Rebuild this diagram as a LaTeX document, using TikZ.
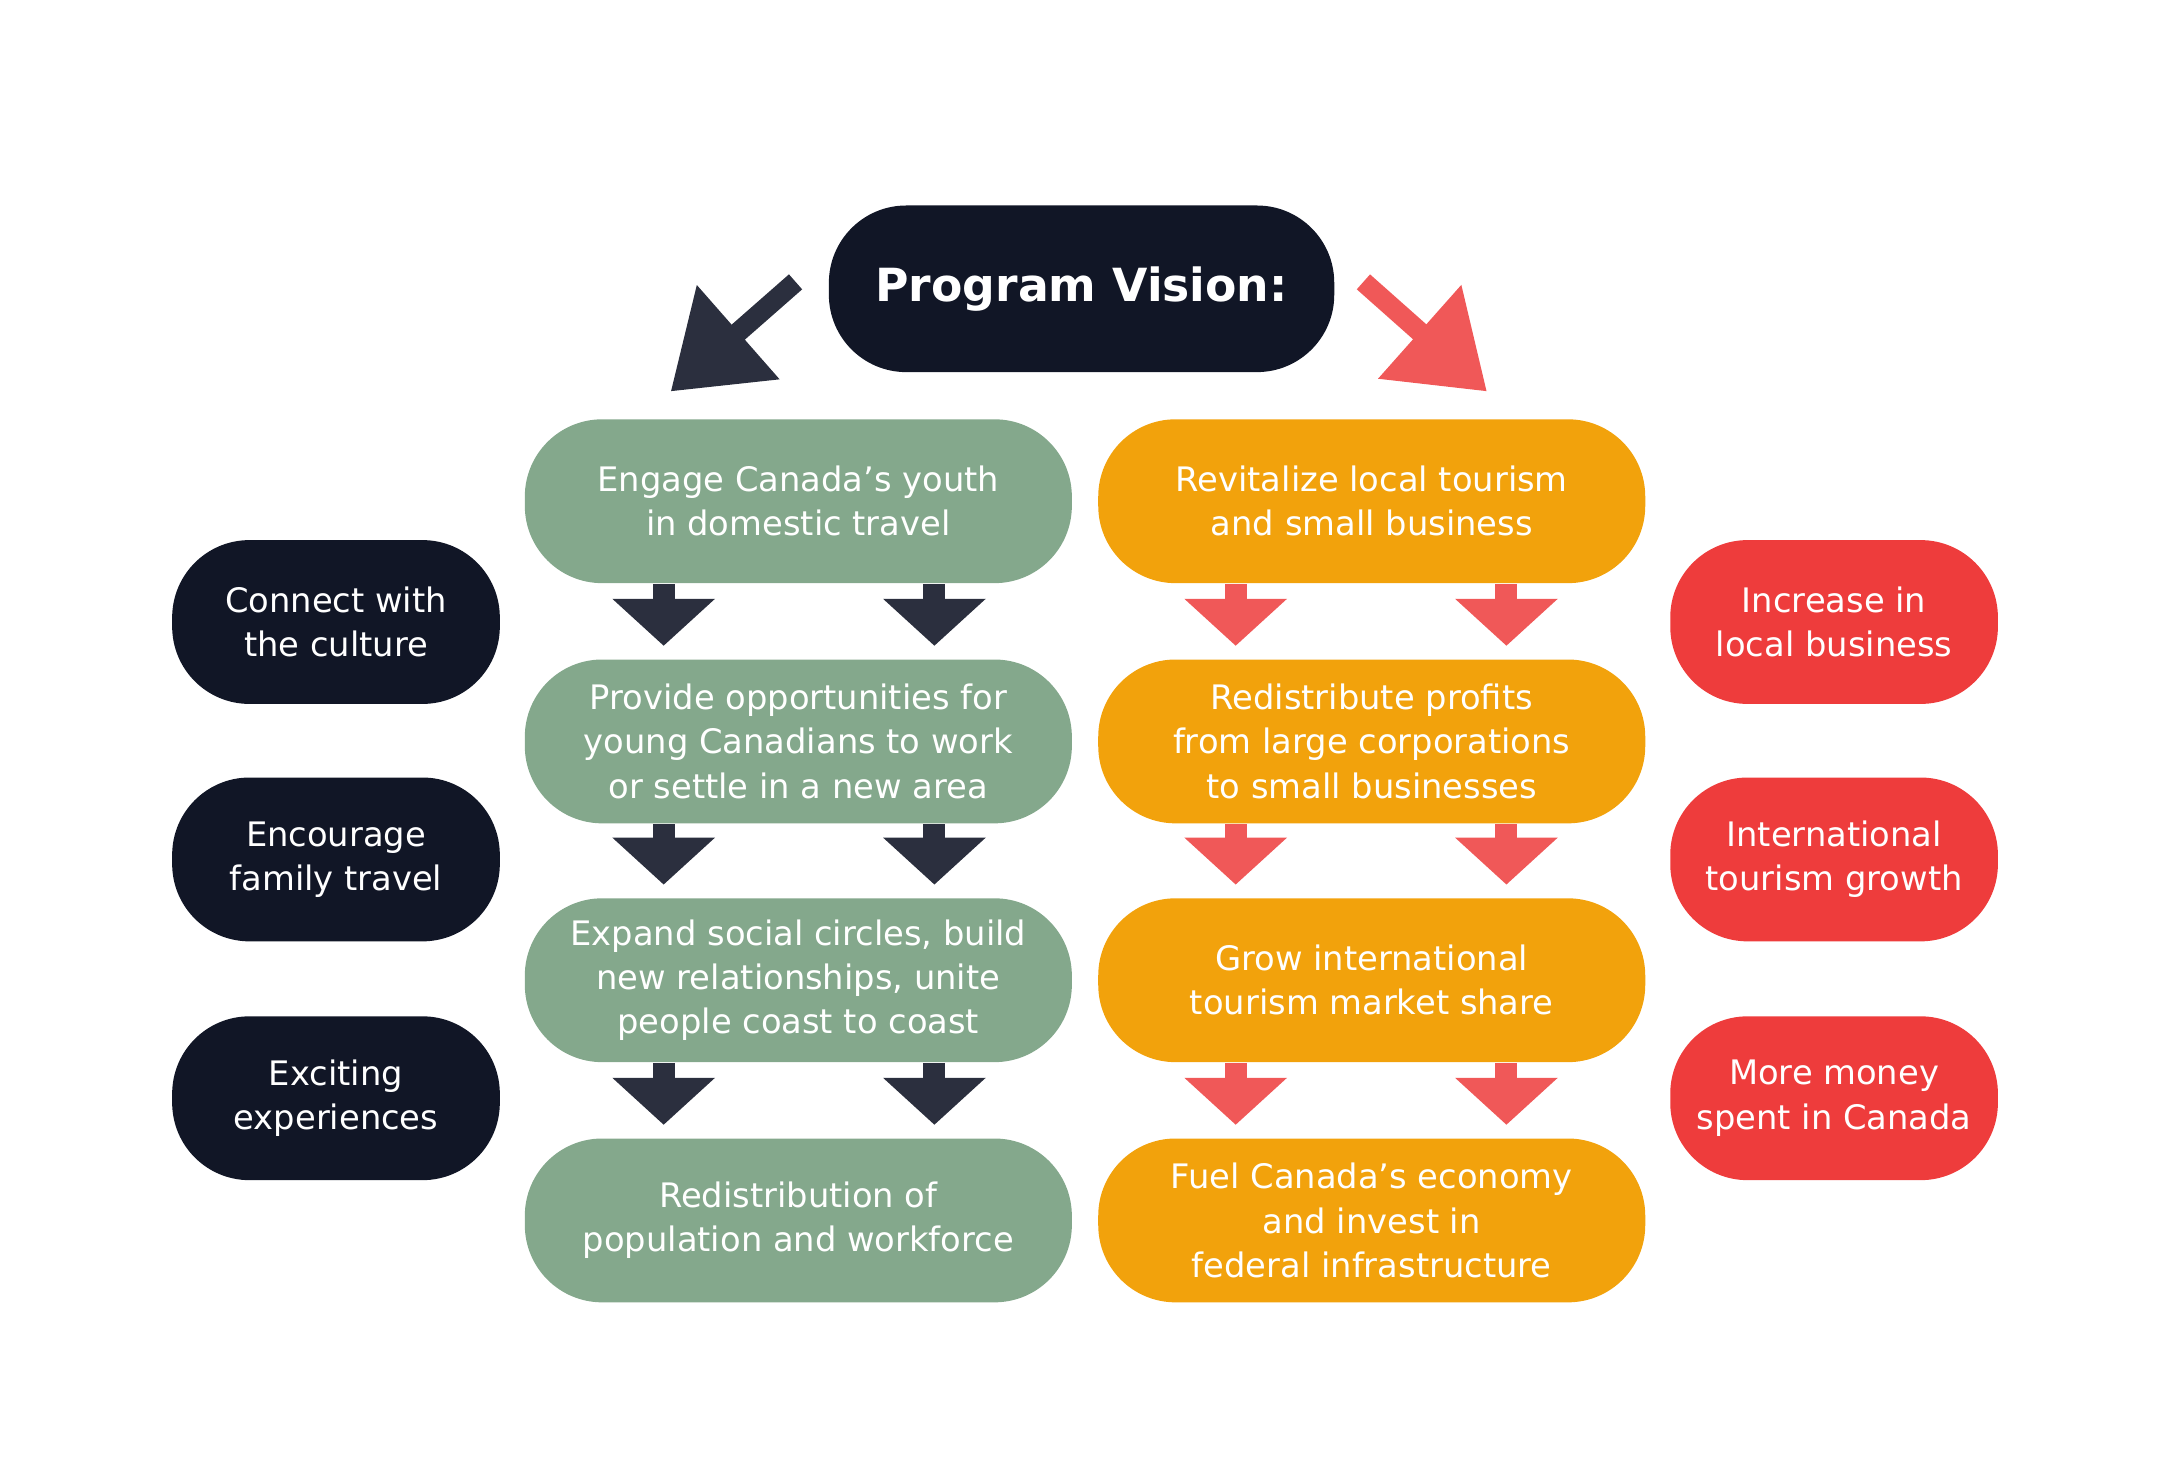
\documentclass[tikz,border=0pt]{standalone}
\usepackage{fontspec}
\setmainfont{DejaVu Sans}
\usetikzlibrary{arrows.meta}
\definecolor{visionnavy}{RGB}{17,22,38}
\definecolor{visiongreen}{RGB}{132,168,140}
\definecolor{visionorange}{RGB}{242,162,12}
\definecolor{visionred}{RGB}{238,60,60}
\definecolor{arrowdark}{RGB}{43,47,62}
\definecolor{arrowred}{RGB}{240,88,88}

\tikzset{
    box/.style={rounded corners=22pt, text=white, align=center, font=\fontsize{9.6}{12.6}\selectfont, inner sep=0pt},
    goal/.style={box, minimum width=394*0.01388cm, minimum height=118*0.01388cm},
    side/.style={box, minimum width=236*0.01388cm, minimum height=118*0.01388cm},
    downarrow/.style={line width=0.22cm, -{Triangle[width=1cm,length=0.47cm]}, shorten >=0.13cm}
}

\begin{document}
\begin{tikzpicture}[x=0.01388cm, y=-0.01388cm]
    \useasboundingbox (0,0) rectangle (1568,1052.6);

    \node[box, fill=visionnavy, minimum width=364*0.01388cm, minimum height=120*0.01388cm, font=\fontsize{13}{15}\selectfont\bfseries] (vision) at (779,208) {Program Vision:};

    % youth column
    \node[goal, fill=visiongreen] (g1) at (575,361) {Engage Canada’s youth\\in domestic travel};
    \node[goal, fill=visiongreen] (g2) at (575,534) {Provide opportunities for\\young Canadians to work\\or settle in a new area};
    \node[goal, fill=visiongreen] (g3) at (575,706) {Expand social circles, build\\new relationships, unite\\people coast to coast};
    \node[goal, fill=visiongreen] (g4) at (575,879) {Redistribution of\\population and workforce};

    % tourism column
    \node[goal, fill=visionorange] (o1) at (988,361) {Revitalize local tourism\\and small business};
    \node[goal, fill=visionorange] (o2) at (988,534) {Redistribute profits\\from large corporations\\to small businesses};
    \node[goal, fill=visionorange] (o3) at (988,706) {Grow international\\tourism market share};
    \node[goal, fill=visionorange] (o4) at (988,879) {Fuel Canada’s economy\\and invest in\\federal infrastructure};

    % side boxes
    \node[side, fill=visionnavy] (l1) at (242,448) {Connect with\\the culture};
    \node[side, fill=visionnavy] (l2) at (242,619) {Encourage\\family travel};
    \node[side, fill=visionnavy] (l3) at (242,791) {Exciting\\experiences};
    \node[side, fill=visionred] (r1) at (1321,448) {Increase in\\local business};
    \node[side, fill=visionred] (r2) at (1321,619) {International\\tourism growth};
    \node[side, fill=visionred] (r3) at (1321,791) {More money\\spent in Canada};

    % vision arrows
    \coordinate (leftend) at (483,282);
    \coordinate (rightend) at (1071,282);
    \draw[arrowdark, line width=0.2cm, -{Triangle[width=1.2cm,length=0.9cm]}] (573,203) -- (leftend);
    \draw[arrowred, line width=0.2cm, -{Triangle[width=1.2cm,length=0.9cm]}] (982,203) -- (rightend);

    % step arrows
    \foreach \a/\b in {1/2,2/3,3/4}{
        \draw[downarrow, arrowdark] ([xshift=-97*0.01388cm]g\a.south) -- ([xshift=-97*0.01388cm]g\b.north);
        \draw[downarrow, arrowdark] ([xshift=98*0.01388cm]g\a.south) -- ([xshift=98*0.01388cm]g\b.north);
        \draw[downarrow, arrowred] ([xshift=-98*0.01388cm]o\a.south) -- ([xshift=-98*0.01388cm]o\b.north);
        \draw[downarrow, arrowred] ([xshift=97*0.01388cm]o\a.south) -- ([xshift=97*0.01388cm]o\b.north);
    }
\end{tikzpicture}
\end{document}
